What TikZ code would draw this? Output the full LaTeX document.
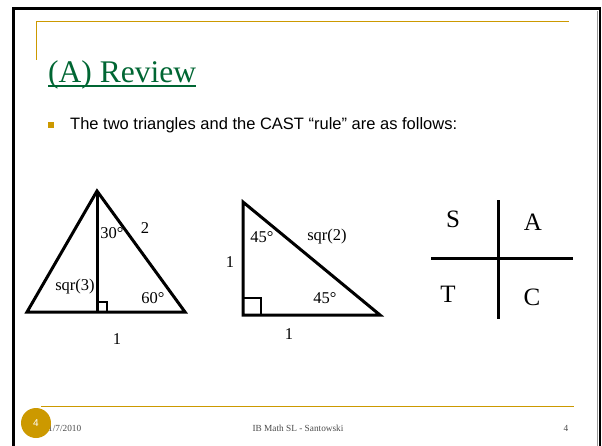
\documentclass[tikz,border=0pt]{standalone}
\usepackage{fontspec}
\setmainfont{Liberation Serif}
\setsansfont{Liberation Sans}
\definecolor{gold}{RGB}{204,153,0}
\definecolor{titlegreen}{RGB}{0,102,51}
\begin{document}
\begin{tikzpicture}[x=1pt,y=-1pt,
  lbl/.style={font=\fontsize{16.5}{18}\selectfont,inner sep=0pt},
  cast/.style={font=\fontsize{25}{28}\selectfont,inner sep=0pt},
  tri/.style={line width=3pt,line join=miter},
  foot/.style={font=\fontsize{9.3}{10}\selectfont,text=black!70,inner sep=0pt}]
\useasboundingbox (0,0) rectangle (602,445);
\clip (0,0) rectangle (602,445);
\fill[white] (0,0) rectangle (602,445);
% frame
\draw[black,line width=2.5pt] (13.5,8.5) rectangle (600,460);
\draw[black!40,line width=0.6pt] (597.5,11) -- (597.5,460);
% header gold lines
\draw[gold,line width=1pt] (36,21.5) -- (569,21.5);
\draw[gold,line width=1pt] (36,21.5) -- (36,60);
% title
\node[anchor=base west,inner sep=0pt,text=titlegreen,font=\fontsize{31.5}{34}\selectfont] (title) at (48,82) {(A) Review};
\draw[titlegreen,line width=1.3pt] (48,86) -- (196,86);
% bullet
\fill[gold] (48,122) rectangle (54,128);
\node[anchor=base west,inner sep=0pt,font=\sffamily\fontsize{16.5}{18}\selectfont] (bullettext) at (70,129) {The two triangles and the CAST “rule” are as follows:};
% triangle 1
\coordinate (A1) at (97,191);
\coordinate (B1) at (27,312);
\coordinate (C1) at (185,312);
\coordinate (D1) at (97,312);
\draw[tri] (A1) -- (B1) -- (C1) -- cycle;
\draw[tri] (A1) -- (D1);
\draw[line width=1.3pt] (97,302) -- (107,302) -- (107,312);
\node[lbl] (t30) at (112,233) {30°};
\node[lbl] (t2) at (145,228) {2};
\node[lbl] (ts3) at (75,287) {sqr(3)};
\node[lbl] (t60) at (153,298) {60°};
\node[lbl] (t1a) at (117,339) {1};
% triangle 2
\coordinate (A2) at (243,202);
\coordinate (B2) at (243,315);
\coordinate (C2) at (380,315);
\draw[tri] (A2) -- (B2) -- (C2) -- cycle;
\draw[line width=1.3pt] (243,298) -- (261,298) -- (261,315);
\node[lbl] (u45a) at (262,237) {45°};
\node[lbl] (us2) at (327,237) {sqr(2)};
\node[lbl] (u1l) at (230,262) {1};
\node[lbl] (u45b) at (325,298) {45°};
\node[lbl] (u1b) at (289,334) {1};
% CAST
\coordinate (V1) at (498,200);
\coordinate (V2) at (498,319);
\coordinate (H1) at (431,258);
\coordinate (H2) at (573,258);
\draw[line width=3pt] (V1) -- (V2);
\draw[line width=3pt] (H1) -- (H2);
\node[cast] (S) at (453,219) {S};
\node[cast] (Aq) at (533,222) {A};
\node[cast] (T) at (448,294) {T};
\node[cast] (C) at (532,297) {C};
% footer
\draw[gold,line width=1pt] (41,406) -- (574,406);
\node[foot,anchor=base west] (date) at (48,431) {1/7/2010};
\node[circle,fill=gold,minimum size=30pt,inner sep=0pt,text=white,font=\sffamily\fontsize{10}{11}\selectfont] (badge) at (36,423) {4};
\node[foot] (ftitle) at (298,428) {IB Math SL - Santowski};
\node[foot] (fnum) at (566,428) {4};
\end{tikzpicture}
\end{document}
